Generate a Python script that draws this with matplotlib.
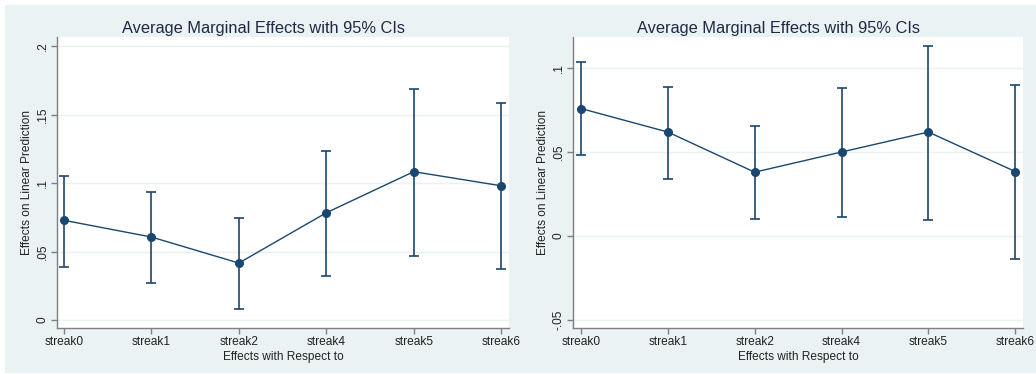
import matplotlib.pyplot as plt
from matplotlib.patches import Rectangle

plt.rcParams['font.family'] = ['Liberation Sans', 'DejaVu Sans']

CATEGORIES = ["streak0", "streak1", "streak2", "streak4", "streak5", "streak6"]

LEFT_EST = [0.0728, 0.0606, 0.0416, 0.0783, 0.1083, 0.0980]
LEFT_LO = [0.0389, 0.0268, 0.0078, 0.0324, 0.0467, 0.0370]
LEFT_HI = [0.1053, 0.0934, 0.0742, 0.1236, 0.1684, 0.1584]
LEFT_TICKS = [0, 0.05, 0.1, 0.15, 0.2]
LEFT_TICKLABELS = ["0", ".05", ".1", ".15", ".2"]

RIGHT_EST = [0.0759, 0.0619, 0.0380, 0.0500, 0.0619, 0.0384]
RIGHT_LO = [0.0480, 0.0341, 0.0102, 0.0112, 0.0098, -0.0137]
RIGHT_HI = [0.1034, 0.0890, 0.0655, 0.0884, 0.1133, 0.0900]
RIGHT_TICKS = [-0.05, 0, 0.05, 0.1]
RIGHT_TICKLABELS = ["-.05", "0", ".05", ".1"]

TITLE = "Average Marginal Effects with 95% CIs"
XLABEL = "Effects with Respect to"
YLABEL = "Effects on Linear Prediction"

BG = "#eaf2f3"
NAVY = "#1a476f"
W, H = 1036, 374


def draw_panel(fig, rect, est, lo, hi, ticks, ticklabels, ylim, xlim, title_x):
    ax = fig.add_axes(rect)
    ax.set_facecolor("white")
    x = list(range(len(CATEGORIES)))
    yerr = [[e - l for e, l in zip(est, lo)], [h - e for e, h in zip(est, hi)]]
    ax.errorbar(x, est, yerr=yerr, fmt="none", ecolor=NAVY, elinewidth=1.2,
                capsize=3.5, capthick=1.2, zorder=3)
    ax.plot(x, est, color=NAVY, lw=1.0, marker="o", markersize=5.5,
            markerfacecolor=NAVY, markeredgecolor=NAVY, zorder=4)
    ax.set_xlim(*xlim)
    ax.set_ylim(*ylim)
    ax.set_xticks(x)
    ax.set_xticklabels(CATEGORIES, fontsize=8.6, color="#222222")
    ax.set_yticks(ticks)
    ax.set_yticklabels(ticklabels, fontsize=8.6, color="#222222",
                       rotation=90, va="center")
    ax.yaxis.grid(True, color=BG, lw=1.0)
    ax.set_axisbelow(True)
    for s in ("top", "right"):
        ax.spines[s].set_visible(False)
    for s in ("left", "bottom"):
        ax.spines[s].set_color("#7f7f7f")
        ax.spines[s].set_linewidth(1.0)
    ax.tick_params(axis="both", colors="#7f7f7f", labelcolor="#222222",
                   length=4, width=1.0, pad=2)
    ax.set_xlabel(XLABEL, fontsize=8.6, color="#222222", labelpad=2)
    ax.set_ylabel(YLABEL, fontsize=8.6, color="#222222", labelpad=3)
    fig.text(title_x / W, 1 - 28 / H, TITLE, fontsize=11.8, color="#1e2a45",
             ha="center", va="center")
    return ax


fig = plt.figure(figsize=(W / 100, H / 100), dpi=100, facecolor="white")
fig.patches.append(Rectangle((5 / W, 1 / H), 1 - 5 / W, (H - 6) / H,
                             transform=fig.transFigure, facecolor=BG,
                             edgecolor="none", zorder=-10))

draw_panel(fig, [57 / W, 46 / H, 452 / W, 291 / H],
           LEFT_EST, LEFT_LO, LEFT_HI, LEFT_TICKS, LEFT_TICKLABELS,
           (-0.0058, 0.2066), (-0.08, 5.09), 263.5)
draw_panel(fig, [573 / W, 46 / H, 450 / W, 291 / H],
           RIGHT_EST, RIGHT_LO, RIGHT_HI, RIGHT_TICKS, RIGHT_TICKLABELS,
           (-0.0548, 0.1185), (-0.092, 5.09), 778.5)

fig.savefig("out.png", dpi=100, facecolor=fig.get_facecolor())
